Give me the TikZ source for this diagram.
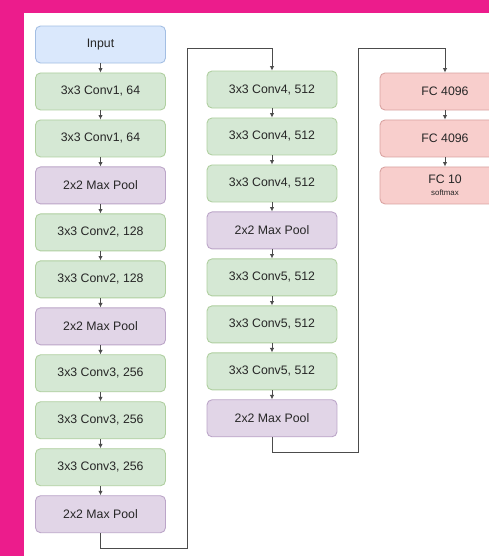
\documentclass[tikz,border=0pt]{standalone}
\usepackage{fontspec}
\setmainfont{Liberation Sans}
\usetikzlibrary{positioning,arrows.meta}
\definecolor{bgpink}{RGB}{236,28,140}
\definecolor{inFill}{HTML}{DAE8FC}
\definecolor{inLine}{HTML}{A3BEE3}
\definecolor{convFill}{HTML}{D5E8D4}
\definecolor{convLine}{HTML}{AFCF9F}
\definecolor{poolFill}{HTML}{E1D5E7}
\definecolor{poolLine}{HTML}{BBA5C8}
\definecolor{fcFill}{HTML}{F8CECC}
\definecolor{fcLine}{HTML}{D9A3A1}
\tikzset{
layer/.style={
  draw=#1Line,
  fill=#1Fill,
  line width=0.5pt,
  rounded corners=0.1cm,
  minimum width=2.6cm,
  minimum height=0.74cm,
  text=black!85,
  align=center,
  font=\fontsize{7}{8}\selectfont
  },
inbox/.style={layer=in},
convbox/.style={layer=conv},
poolbox/.style={layer=pool},
fcbox/.style={layer=fc},
link/.style={draw=black!70,line width=0.5pt,-{Latex[length=2.5pt,width=2.5pt]}}
}

\begin{document}
\begin{tikzpicture}[x=0.02cm,y=-0.02cm,node distance=0.182cm]

\path[use as bounding box,clip] (0,0) rectangle (489,556);
\fill[bgpink] (0,0) rectangle (489,556);
\fill[white] (24,13) rectangle (489,556);

% first column
\node[inbox] (in) at (100.5,44.5) {Input};
\node[convbox,below=of in] (c1a) {3x3 Conv1, 64};
\node[convbox,below=of c1a] (c1b) {3x3 Conv1, 64};
\node[poolbox,below=of c1b] (p1) {2x2 Max Pool};
\node[convbox,below=of p1] (c2a) {3x3 Conv2, 128};
\node[convbox,below=of c2a] (c2b) {3x3 Conv2, 128};
\node[poolbox,below=of c2b] (p2) {2x2 Max Pool};
\node[convbox,below=of p2] (c3a) {3x3 Conv3, 256};
\node[convbox,below=of c3a] (c3b) {3x3 Conv3, 256};
\node[convbox,below=of c3b] (c3c) {3x3 Conv3, 256};
\node[poolbox,below=of c3c] (p3) {2x2 Max Pool};

% second column
\node[convbox] (c4a) at (272,89.5) {3x3 Conv4, 512};
\node[convbox,below=of c4a] (c4b) {3x3 Conv4, 512};
\node[convbox,below=of c4b] (c4c) {3x3 Conv4, 512};
\node[poolbox,below=of c4c] (p4) {2x2 Max Pool};
\node[convbox,below=of p4] (c5a) {3x3 Conv5, 512};
\node[convbox,below=of c5a] (c5b) {3x3 Conv5, 512};
\node[convbox,below=of c5b] (c5c) {3x3 Conv5, 512};
\node[poolbox,below=of c5c] (p5) {2x2 Max Pool};

% third column
\node[fcbox] (fc1) at (445,91.5) {FC 4096};
\node[fcbox,below=of fc1] (fc2) {FC 4096};
\node[fcbox,below=of fc2] (fc3) {FC 10\\[-1pt]{\fontsize{4.5}{5}\selectfont softmax}};

\coordinate (low1) at (187,548);
\coordinate (high1) at (187,48);
\coordinate (low2) at (358,452);
\coordinate (high2) at (358,48);

\draw[link] (in) -- (c1a);
\draw[link] (c1a) -- (c1b);
\draw[link] (c1b) -- (p1);
\draw[link] (p1) -- (c2a);
\draw[link] (c2a) -- (c2b);
\draw[link] (c2b) -- (p2);
\draw[link] (p2) -- (c3a);
\draw[link] (c3a) -- (c3b);
\draw[link] (c3b) -- (c3c);
\draw[link] (c3c) -- (p3);
\draw[link] (p3.south) |- (low1) -- (high1) -| (c4a.north);

\draw[link] (c4a) -- (c4b);
\draw[link] (c4b) -- (c4c);
\draw[link] (c4c) -- (p4);
\draw[link] (p4) -- (c5a);
\draw[link] (c5a) -- (c5b);
\draw[link] (c5b) -- (c5c);
\draw[link] (c5c) -- (p5);
\draw[link] (p5.south) |- (low2) -- (high2) -| (fc1.north);

\draw[link] (fc1) -- (fc2);
\draw[link] (fc2) -- (fc3);

\end{tikzpicture}
\end{document}
